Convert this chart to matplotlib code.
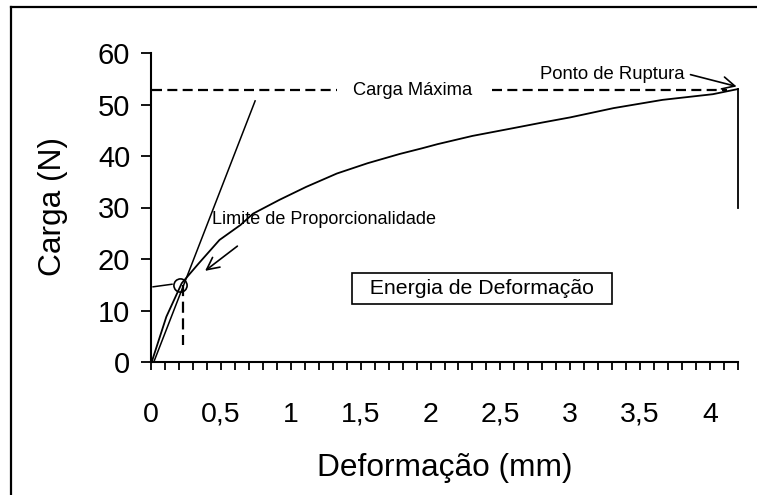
import matplotlib
matplotlib.use("Agg")
import matplotlib.pyplot as plt
from matplotlib.lines import Line2D

plt.rcParams['font.family'] = ['Liberation Sans', 'DejaVu Sans']

# Load-deformation curve (mm, N)
deform = [0.005, 0.11, 0.22, 0.34, 0.49, 0.64, 0.73, 0.92, 1.11, 1.22, 1.33,
          1.55, 1.78, 1.94, 2.05, 2.30, 2.59, 2.80, 3.00, 3.31, 3.66, 4.02, 4.20]
carga = [0.0, 8.8, 15.3, 19.1, 23.7, 26.6, 28.8, 31.5, 34.0, 35.3, 36.6,
         38.6, 40.4, 41.5, 42.3, 43.9, 45.4, 46.5, 47.5, 49.3, 50.9, 52.0, 53.0]
# rupture drop
rupt_x = [4.20, 4.20]
rupt_y = [53.0, 30.0]
# tangent (proportional) line
tang_x = [0.02, 0.745]
tang_y = [0.0, 50.7]
# proportional limit point
lim_x = 0.21
lim_y = 15.0
carga_max = 52.8

xticks = [0, 0.5, 1, 1.5, 2, 2.5, 3, 3.5, 4]
xticklabels = ['0', '0,5', '1', '1,5', '2', '2,5', '3', '3,5', '4']
yticks = [0, 10, 20, 30, 40, 50, 60]

W, H = 757, 495
fig = plt.figure(figsize=(W / 100, H / 100), dpi=100)
ax = fig.add_axes([151 / W, 1 - 362 / H, (738 - 151) / W, (362 - 53) / H])
ax.set_xlim(0, 4.2)
ax.set_ylim(0, 60)

for s in ['top', 'right']:
    ax.spines[s].set_visible(False)
for s in ['left', 'bottom']:
    ax.spines[s].set_linewidth(1.5)

ax.set_xticks(xticks)
ax.set_xticklabels(xticklabels)
ax.set_xticks([i / 10 for i in range(43)], minor=True)
ax.set_yticks(yticks)
ax.tick_params(axis='x', which='both', direction='out', length=5.5, width=1.3,
               labelsize=20.5, pad=23)
ax.tick_params(axis='y', direction='out', length=7, width=1.3, labelsize=21, pad=8)

ax.plot(deform, carga, color='black', lw=1.3, clip_on=False)
ax.plot(rupt_x, rupt_y, color='black', lw=1.3, clip_on=False)
ax.plot(tang_x, tang_y, color='black', lw=1.1)
ax.plot([lim_x], [lim_y], marker='o', ms=9.5, mfc='none', mec='black', mew=1.2)
ax.plot([0.015, 0.15], [14.6, 15.1], color='black', lw=1.1)
ax.plot([0.232, 0.232], [15.0, 3.3], color='black', lw=1.6, dashes=(5, 2.5))

# Carga Máxima dashed line
ax.plot([0.01, 1.33], [carga_max, carga_max], color='black', lw=1.6, dashes=(4.5, 2.4))
ax.plot([2.44, 4.12], [carga_max, carga_max], color='black', lw=1.6, dashes=(4.5, 2.4))
ax.text(1.87, carga_max, 'Carga Máxima', ha='center', va='center', fontsize=13.2)

ax.annotate('', xy=(4.19, 53.5), xytext=(3.86, 55.8),
            arrowprops=dict(arrowstyle='->', color='black', lw=1.2,
                            mutation_scale=22, shrinkA=0, shrinkB=0))
ax.text(3.30, 55.9, 'Ponto de Ruptura', ha='center', va='center', fontsize=13.3)

ax.annotate('', xy=(0.387, 17.7), xytext=(0.618, 22.5),
            arrowprops=dict(arrowstyle='->', color='black', lw=1.2,
                            mutation_scale=22, shrinkA=0, shrinkB=0))
ax.text(0.437, 27.6, 'Limite de Proporcionalidade', ha='left', va='center',
        fontsize=13)

ax.text(2.37, 14.2, '  Energia de Deformação  ', ha='center', va='center',
        fontsize=15.3,
        bbox=dict(boxstyle='square,pad=0.28', fc='white', ec='black', lw=1.2))

fig.text(445 / W, 1 - 468 / H, 'Deformação (mm)', ha='center', va='center',
         fontsize=22.8)
fig.text(53 / W, 1 - 207 / H, 'Carga (N)', ha='center', va='center',
         fontsize=22.8, rotation=90)

# outer frame (left and top edges visible)
fig.add_artist(Line2D([11 / W, 11 / W], [0, 1 - 7 / H], transform=fig.transFigure,
                      color='black', lw=1.6))
fig.add_artist(Line2D([11 / W, 1], [1 - 7 / H, 1 - 7 / H], transform=fig.transFigure,
                      color='black', lw=1.6))

fig.savefig('out.png', dpi=100)
